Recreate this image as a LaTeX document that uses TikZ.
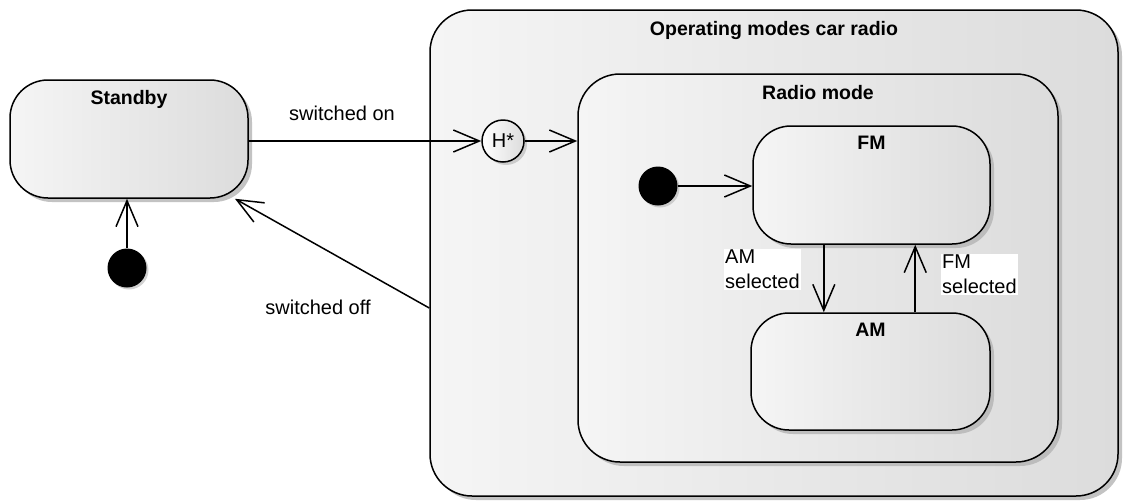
\documentclass[tikz,border=0pt]{standalone}
\usepackage{fontspec}
\setmainfont{Liberation Sans}
\usepackage{tikz}
\usetikzlibrary{positioning,calc,arrows.meta,shadows}
\definecolor{fillleft}{HTML}{F5F5F5}
\definecolor{fillright}{HTML}{DCDCDC}
\definecolor{shadowgray}{HTML}{B4B4B4}

\tikzset{
  state/.style={draw, line width=1.5pt, rounded corners=38pt, inner sep=0pt,
    left color=fillleft, right color=fillright,
    drop shadow={shadow xshift=4pt, shadow yshift=-4pt, fill=shadowgray, opacity=0.8}},
  statetitle/.style={font=\fontsize{19.5}{23}\selectfont\bfseries, inner sep=0pt},
  initial/.style={circle, fill=black, minimum size=39pt, inner sep=0pt,
    drop shadow={shadow xshift=2pt, shadow yshift=-2pt, fill=shadowgray, opacity=0.6}},
  trans/.style={line width=1.5pt, -{Straight Barb[length=26pt,width=22pt,line width=1.5pt]}},
  translabel/.style={font=\fontsize{20}{25}\selectfont, inner sep=1pt, fill=white, align=left}
}

\begin{document}
\begin{tikzpicture}[x=1pt,y=-1pt]
\useasboundingbox (0,0) rectangle (1123,501);

% states
\node[state, minimum width=238pt, minimum height=118pt] (standby) at (129,139) {};
\node[statetitle, below=11pt of standby.north] (standbytitle) {Standby};

\node[state, rounded corners=42pt, minimum width=688pt, minimum height=486pt] (ops) at (774,253) {};
\node[statetitle, below=12pt of ops.north] (opstitle) {Operating modes car radio};

\node[state, rounded corners=42pt, minimum width=480pt, minimum height=388pt] (radio) at (818,268) {};
\node[statetitle, below=12pt of radio.north] (radiotitle) {Radio mode};

\node[state, minimum width=237pt, minimum height=118pt] (fm) at (871.5,185) {};
\node[statetitle, below=11pt of fm.north] (fmtitle) {FM};

\node[state, minimum width=239pt, minimum height=117pt] (am) at (870.5,371.5) {};
\node[statetitle, below=11pt of am.north] (amtitle) {AM};

% pseudo states
\node[initial] (init1) at (127,268) {};
\node[initial] (init2) at (658,186) {};
\node[circle, draw, line width=1.5pt, minimum size=42pt, inner sep=0pt,
  left color=white, right color=fillright,
  drop shadow={shadow xshift=3pt, shadow yshift=-3pt, fill=shadowgray, opacity=0.6},
  font=\fontsize{20}{23}\selectfont] (hist) at (503,141) {H*};

% transitions
\draw[trans] (init1) -- (init1 |- standby.south);
\draw[trans] (standby.east |- hist) -- (hist);
\draw[trans] (hist) -- (hist -| radio.west);
\draw[trans] (init2) -- (init2 -| fm.west);
\coordinate (amsel) at ($(fm.south west)!0.30!(fm.south east)$);
\coordinate (fmsel) at ($(am.north west)!0.686!(am.north east)$);
\draw[trans] (amsel) -- (amsel |- am.north);
\draw[trans] (fmsel) -- (fmsel |- fm.south);
\draw[trans] ([yshift=-55pt]ops.west) -- (standby);

% labels
\node[translabel] (onlabel) at (342,113) {switched on};
\node[translabel] (offlabel) at (318,307) {switched off};
\node[translabel, anchor=north west] (amlabel) at (724,249) {AM\\selected};
\node[translabel, anchor=north west] (fmlabel) at (941,254) {FM\\selected};
\end{tikzpicture}
\end{document}
